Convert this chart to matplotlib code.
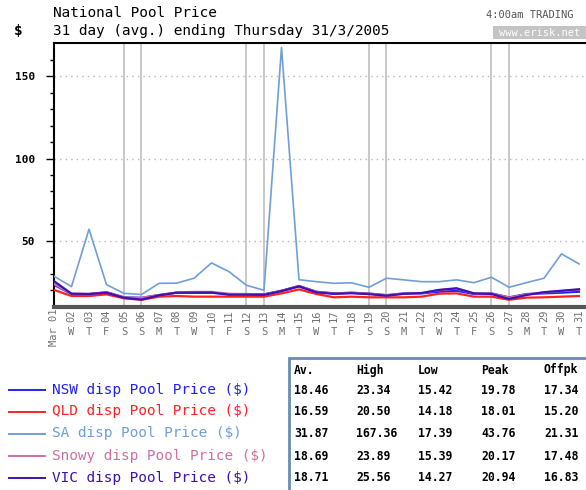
import datetime
import matplotlib
matplotlib.use("Agg")
import matplotlib.pyplot as plt
from matplotlib.lines import Line2D
from matplotlib.patches import Rectangle
from matplotlib.transforms import blended_transform_factory

plt.rcParams['font.family'] = ['DejaVu Sans Mono']

# daily average pool prices, March 2005
days = list(range(1, 32))
nsw = [23.3, 17.7, 17.7, 18.8, 15.7, 15.4, 17.1, 18.5, 18.5, 18.5, 17.7, 17.7, 17.5, 19.7, 22.6, 19.1,
       18.1, 18.5, 18.0, 17.0, 18.1, 18.1, 19.1, 19.7, 17.7, 18.1, 15.7, 17.7, 18.1, 18.5, 19.1]
qld = [20.2, 16.5, 16.5, 17.5, 15.1, 14.2, 16.1, 16.5, 16.1, 16.1, 16.1, 16.1, 16.1, 18.1, 20.5, 17.7,
       15.7, 16.1, 15.7, 15.7, 15.7, 16.1, 17.9, 18.1, 16.1, 16.1, 14.2, 15.5, 15.7, 16.1, 16.5]
sa = [28.5, 22.2, 57.1, 23.4, 18.1, 17.4, 24.2, 24.3, 27.3, 36.6, 31.3, 23.0, 20.0, 167.4, 26.4, 25.2,
      24.2, 24.5, 21.8, 27.3, 26.3, 25.2, 25.2, 26.3, 24.6, 27.9, 21.8, 24.6, 27.3, 42.1, 36.0]
snowy = [23.9, 17.8, 17.7, 18.7, 15.6, 15.4, 17.0, 18.6, 19.0, 19.0, 17.8, 17.6, 17.4, 19.6, 22.4, 19.0,
         18.0, 18.4, 17.9, 17.0, 18.0, 18.2, 20.0, 21.0, 18.0, 18.0, 15.5, 17.5, 18.7, 19.5, 20.3]
vic = [25.5, 17.9, 17.7, 18.5, 15.4, 14.3, 16.9, 18.5, 18.6, 18.6, 17.3, 17.3, 17.2, 19.5, 22.3, 18.7,
       17.8, 18.2, 17.6, 16.7, 17.8, 18.3, 20.2, 21.2, 18.1, 17.7, 14.7, 17.1, 18.8, 19.7, 20.6]

names = ['NSW disp Pool Price ($)', 'QLD disp Pool Price ($)', 'SA disp Pool Price ($)',
         'Snowy disp Pool Price ($)', 'VIC disp Pool Price ($)']
colors = ['#2020ff', '#ff2020', '#6f9fd8', '#d070a0', '#4010b0']
series = [nsw, qld, sa, snowy, vic]

headers = ['Av.', 'High', 'Low', 'Peak', 'Offpk']
stats = [['18.46', '23.34', '15.42', '19.78', '17.34'],
         ['16.59', '20.50', '14.18', '18.01', '15.20'],
         ['31.87', '167.36', '17.39', '43.76', '21.31'],
         ['18.69', '23.89', '15.39', '20.17', '17.48'],
         ['18.71', '25.56', '14.27', '20.94', '16.83']]

W, H = 586, 490
fig = plt.figure(figsize=(W / 100, H / 100), dpi=100)


def fx(x):
    return x / W


def fy(y):
    return 1 - y / H


ax = fig.add_axes([fx(54), fy(306.7), 542.5 / W, (306.7 - 43.3) / H])
ax.set_xlim(1, 32)
ax.set_ylim(10, 170)

# weekend gridlines and dotted horizontal lines
weekday = [datetime.date(2005, 3, d).weekday() for d in days]
for d, wd in zip(days, weekday):
    if wd >= 5:
        ax.axvline(d, color='#c8c8c8', lw=1.4, zorder=1)
for v in [50, 100, 150]:
    ax.axhline(v, color='#b8b8b8', lw=1, ls=(0, (1, 3)), zorder=1)

widths = [1.6, 1.6, 1.2, 1.6, 1.6]
for vals, c, lw in zip(series, colors, widths):
    ax.plot(days, vals, color=c, lw=lw, zorder=3)

ax.spines['right'].set_visible(False)
ax.spines['top'].set_linewidth(1.5)
ax.spines['left'].set_linewidth(1.5)
ax.spines['bottom'].set_linewidth(3)
ax.spines['bottom'].set_color('#555555')

ax.set_yticks([50, 100, 150])
ax.set_yticks(range(20, 170, 10), minor=True)
ax.tick_params(axis='y', which='major', length=5.5, width=1, pad=8, labelsize=8)
ax.tick_params(axis='y', which='minor', length=3, width=1)
for lab in ax.get_yticklabels():
    lab.set_fontweight('bold')
ax.set_xticks([])

letters = ['M', 'T', 'W', 'T', 'F', 'S', 'S']
tr = blended_transform_factory(ax.transData, fig.transFigure)
for d, wd in zip(days, weekday):
    if d == 1:
        ax.text(d, fy(309), 'Mar 01', rotation=90, ha='center', va='top', fontsize=7.5,
                color='#707070', transform=tr, clip_on=False)
    else:
        ax.text(d, fy(309), '%02d' % d, rotation=90, ha='center', va='top', fontsize=7.5,
                color='#707070', transform=tr, clip_on=False)
        ax.text(d, fy(332), letters[wd], ha='center', va='center', fontsize=7.5,
                color='#707070', transform=tr, clip_on=False)

# titles
fig.text(fx(53), fy(13), 'National Pool Price', fontsize=10.4, va='center')
fig.text(fx(53), fy(31), '31 day (avg.) ending Thursday 31/3/2005', fontsize=10.4, va='center')
fig.text(fx(14), fy(31), '$', fontsize=10.4, va='center', fontweight='bold')
fig.text(fx(486), fy(15), '4:00am TRADING', fontsize=7.5, va='center', color='#555555')
fig.patches.append(Rectangle((fx(493), fy(39)), 100 / W, 13 / H, transform=fig.transFigure,
                             facecolor='#c4c4c4', edgecolor='none'))
fig.text(fx(499), fy(32.5), 'www.erisk.net', fontsize=7.5, va='center', color='white')

# legend
row_y = [390, 411.5, 433.5, 456, 477.5]
for name, c, y in zip(names, colors, row_y):
    fig.add_artist(Line2D([fx(9), fx(45)], [fy(y), fy(y)], color=c, lw=1.4))
    fig.text(fx(52), fy(y), name, color=c, fontsize=10.4, va='center')

# stats table
fig.patches.append(Rectangle((fx(289), fy(500)), 320 / W, 142 / H, transform=fig.transFigure,
                             facecolor='none', edgecolor='#6a8cb0', lw=2))
col_x = [294, 356, 418, 481, 544]
for h, x in zip(headers, col_x):
    fig.text(fx(x), fy(370), h, fontsize=8.3, va='center', fontweight='bold')
for row, y in zip(stats, row_y):
    for s, x in zip(row, col_x):
        fig.text(fx(x), fy(y), s, fontsize=8.3, va='center', fontweight='bold')

fig.savefig('out.png', dpi=100)
